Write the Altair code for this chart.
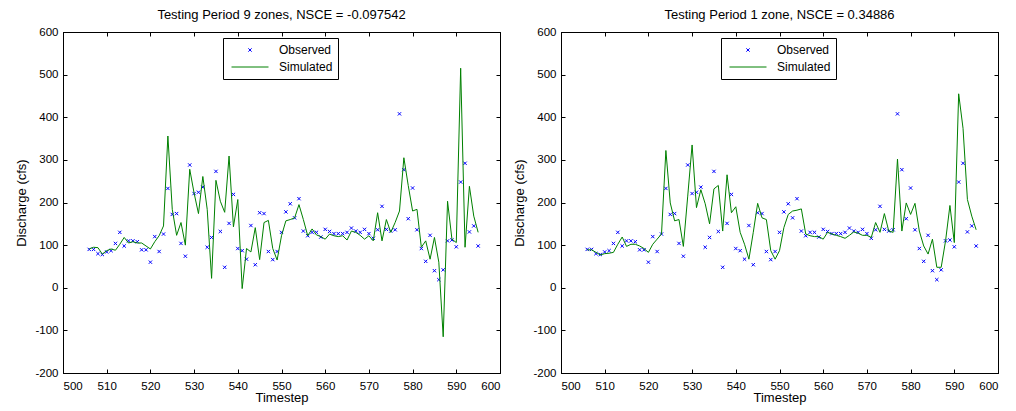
import altair as alt
import pandas as pd

# ---------------- data ----------------
timestep = list(range(506, 596))

observed = [90, 90, 80, 78, 84, 87, 104, 130, 98, 110,
            110, 108, 89, 89, 60, 120, 85, 126, 233, 172,
            174, 104, 74, 288, 221, 224, 236, 95, 118, 273,
            132, 48, 151, 219, 92, 87, 67, 146, 54, 176,
            174, 85, 66, 85, 130, 178, 197, 164, 209, 133,
            122, 130, 130, 119, 137, 132, 127, 127, 127, 130,
            140, 133, 130, 137, 127, 116, 136, 191, 137, 133,
            136, 408, 277, 162, 234, 136, 92, 62, 123, 40,
            19, 42, 110, 112, 96, 248, 292, 131, 145, 98]

sim_9zones = [91, 95, 94, 79, 87, 91, 88, 102, 118, 105,
              108, 105, 105, 98, 91, 108, 122, 145, 356, 184,
              123, 153, 100, 278, 222, 174, 261, 184, 22, 252,
              203, 177, 309, 143, 207, -2, 92, 84, 141, 66,
              153, 158, 92, 65, 122, 157, 160, 164, 195, 160,
              122, 138, 124, 120, 114, 126, 122, 120, 122, 112,
              133, 130, 123, 114, 122, 110, 176, 110, 160, 130,
              153, 180, 305, 240, 180, 184, 95, 110, 67, 118,
              60, -115, 203, 114, 106, 515, 95, 238, 168, 130]

sim_1zone = [89, 89, 83, 77, 80, 81, 83, 102, 119, 97,
             102, 102, 98, 92, 83, 102, 114, 126, 322, 199,
             157, 160, 97, 215, 335, 188, 230, 197, 150, 232,
             240, 133, 265, 176, 190, 130, 102, 67, 130, 198,
             164, 160, 87, 67, 87, 141, 172, 180, 182, 185,
             126, 122, 120, 120, 114, 130, 126, 123, 120, 116,
             123, 131, 128, 123, 123, 118, 153, 130, 174, 133,
             130, 302, 133, 199, 172, 198, 133, 98, 79, 114,
             48, 48, 110, 193, 106, 455, 374, 207, 168, 136]

titles = ["Testing Period 9 zones, NSCE = -0.097542",
          "Testing Period 1 zone, NSCE = 0.34886"]
series_names = ["Observed", "Simulated"]
series_colors = ["#0000ff", "#008000"]
x_ticks = list(range(500, 601, 10))
y_ticks = list(range(-200, 601, 100))

FONT = "Liberation Sans"
X_PATH = "M-0.09,-0.09L0.09,0.09M-0.09,0.09L0.09,-0.09"
SYM = 1369
TICK_DASH = [4, 2000]
LABEL_EXPR = "'' + datum.value"


def panel(sim, title):
    obs_df = pd.DataFrame({"Timestep": timestep, "Discharge": observed,
                           "Series": series_names[0]})
    sim_df = pd.DataFrame({"Timestep": timestep, "Discharge": sim,
                           "Series": series_names[1]})

    xscale = alt.Scale(domain=[500, 600], nice=False, zero=False)
    yscale = alt.Scale(domain=[-200, 600], nice=False, zero=False)

    leg = alt.Legend(title=None, orient="none", legendX=160, legendY=6,
                     strokeColor="black", fillColor="white", padding=5,
                     labelFont=FONT, labelFontSize=12, labelColor="black",
                     labelExpr="datum.label + '  '",
                     labelOffset=10, symbolOffset=3, symbolSize=SYM, symbolStrokeWidth=1,
                     clipHeight=14, rowPadding=3, cornerRadius=0)

    color = alt.Color("Series:N",
                      scale=alt.Scale(domain=series_names, range=series_colors),
                      legend=leg)
    shape = alt.Shape("Series:N",
                      scale=alt.Scale(domain=series_names, range=[X_PATH, "stroke"]),
                      legend=leg)

    x_bottom = alt.X("Timestep:Q", scale=xscale,
                     axis=alt.Axis(orient="bottom", values=x_ticks, title="Timestep",
                                   ticks=False, labelPadding=7, grid=True,
                                   gridDash=TICK_DASH, gridColor="black", gridOpacity=1,
                                   gridWidth=1, domainColor="black", labelExpr=LABEL_EXPR,
                                   labelFont=FONT, labelFontSize=11.5, labelColor="black",
                                   titleFont=FONT, titleFontSize=13, titleFontWeight="normal",
                                   titleColor="black", titlePadding=0))
    y_left = alt.Y("Discharge:Q", scale=yscale,
                   axis=alt.Axis(orient="left", values=y_ticks, title="Discharge (cfs)",
                                 ticks=False, labelPadding=5, grid=True,
                                 gridDash=TICK_DASH, gridColor="black", gridOpacity=1,
                                 gridWidth=1, domainColor="black", labelExpr=LABEL_EXPR,
                                 labelFont=FONT, labelFontSize=11.5, labelColor="black",
                                 titleFont=FONT, titleFontSize=13, titleFontWeight="normal",
                                 titleColor="black", titlePadding=6))
    x_top = alt.X("Timestep:Q", scale=xscale,
                  axis=alt.Axis(orient="top", values=x_ticks, title=None, labels=False,
                                ticks=False, grid=True, gridDash=TICK_DASH,
                                gridColor="black", gridOpacity=1, gridWidth=1,
                                domainColor="black"))
    y_right = alt.Y("Discharge:Q", scale=yscale,
                    axis=alt.Axis(orient="right", values=y_ticks, title=None, labels=False,
                                  ticks=False, grid=True, gridDash=TICK_DASH,
                                  gridColor="black", gridOpacity=1, gridWidth=1,
                                  domainColor="black"))

    pts = alt.Chart(obs_df).mark_point(filled=False, strokeWidth=1, size=SYM, opacity=1).encode(
        x=x_bottom, y=y_left, color=color, shape=shape)
    line = alt.Chart(sim_df).mark_line(strokeWidth=1).encode(
        x=x_top, y=y_right, color=color)

    return alt.layer(pts, line).resolve_axis(x="independent", y="independent").properties(
        width=437, height=341,
        title=alt.TitleParams(title, font=FONT, fontSize=13, fontWeight="normal",
                              color="black", anchor="middle", offset=4))


chart = alt.hconcat(panel(sim_9zones, titles[0]), panel(sim_1zone, titles[1]),
                    spacing=12).resolve_scale(color="independent", shape="independent").configure(
    padding={"left": 7, "top": 0, "right": 0, "bottom": 0},
    background="white",
).configure_view(stroke="black", strokeWidth=1)

chart.save("out.html", embed_options={"renderer": "svg", "actions": False})
